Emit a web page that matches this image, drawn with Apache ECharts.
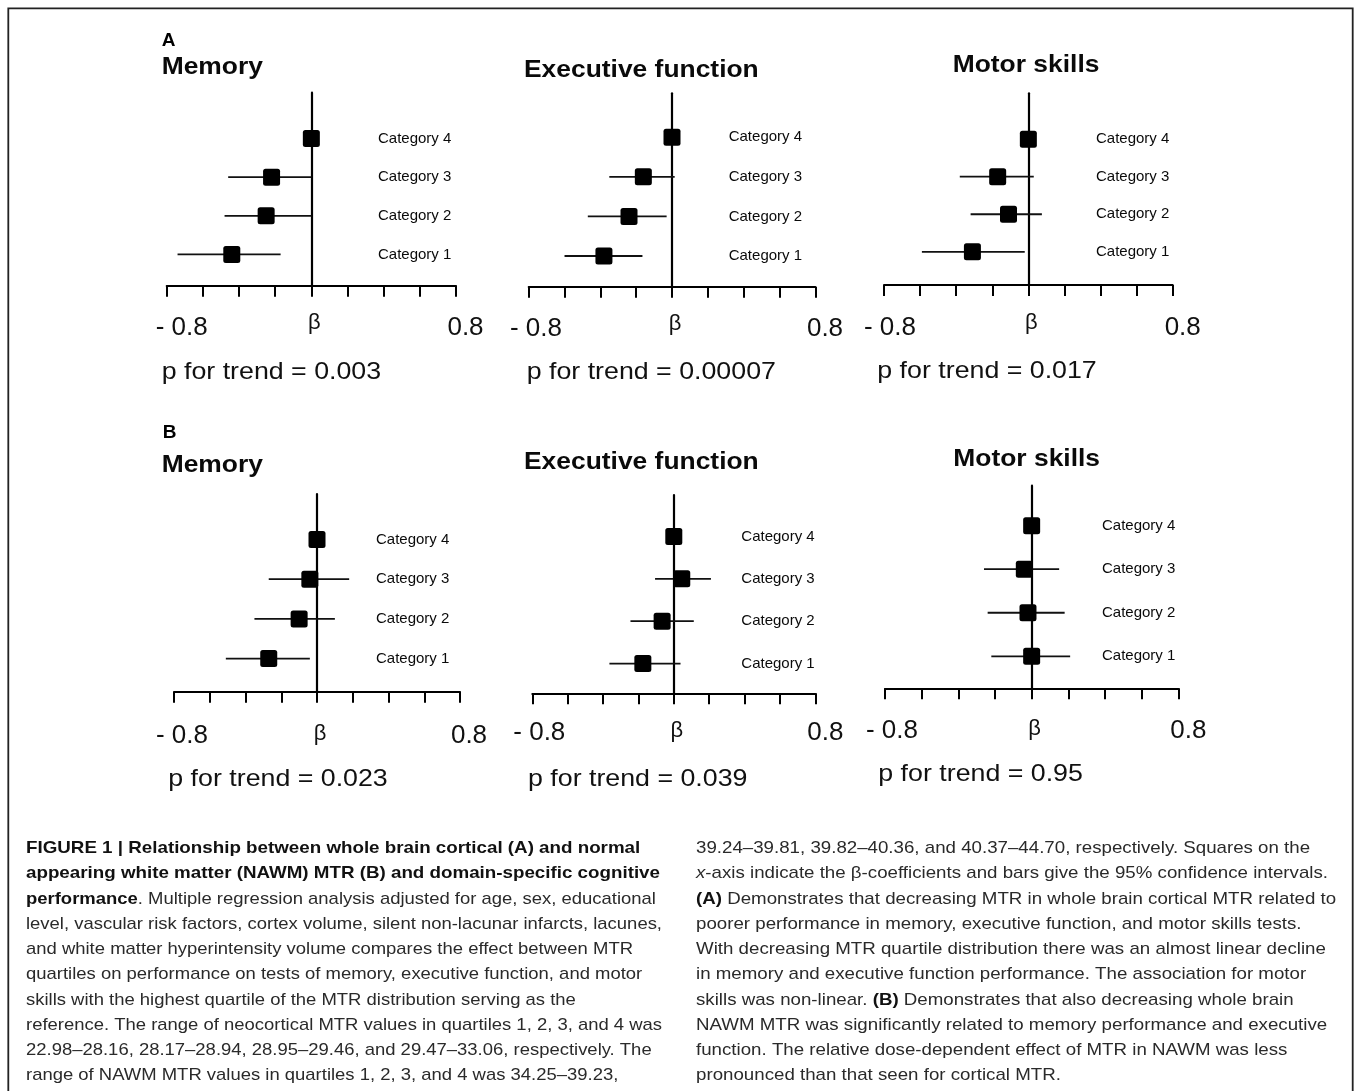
<!DOCTYPE html>
<html>
<head>
<meta charset="utf-8">
<script src="https://cdn.jsdelivr.net/npm/echarts@6/dist/echarts.min.js"></script>
<style>
html,body{margin:0;padding:0;background:#fff;}
#c{width:1354px;height:1091px;}
</style>
</head>
<body>
<div id="c"></div>
<script>
// ---------------- DATA ----------------
const categories = ['Category 1', 'Category 2', 'Category 3', 'Category 4'];
const rowPos = [1, 2, 3, 4];
const domains = ['Memory', 'Executive function', 'Motor skills'];
const sectionLetters = ['A', 'B'];

// (A) whole brain cortical MTR quartiles: beta and 95% CI
const memA_beta = [-0.44, -0.25, -0.22, 0];
const memA_low  = [-0.74, -0.48, -0.46, 0];
const memA_high = [-0.17, 0.00, 0.00, 0];

const exeA_beta = [-0.38, -0.24, -0.16, 0];
const exeA_low  = [-0.60, -0.47, -0.35, 0];
const exeA_high = [-0.165, -0.03, 0.015, 0];

const motA_beta = [-0.31, -0.11, -0.17, 0];
const motA_low  = [-0.59, -0.32, -0.38, 0];
const motA_high = [-0.02, 0.075, 0.03, 0];

// (B) NAWM MTR quartiles
const memB_beta = [-0.27, -0.10, -0.04, 0];
const memB_low  = [-0.51, -0.35, -0.27, 0];
const memB_high = [-0.04, 0.10, 0.18, 0];

const exeB_beta = [-0.175, -0.066, 0.045, 0];
const exeB_low  = [-0.364, -0.245, -0.106, 0];
const exeB_high = [0.038, 0.113, 0.21, 0];

const motB_beta = [0.00, -0.02, -0.04, 0];
const motB_low  = [-0.22, -0.24, -0.26, 0];
const motB_high = [0.21, 0.18, 0.15, 0];

const pTrendA = ['0.003', '0.00007', '0.017'];
const pTrendB = ['0.023', '0.039', '0.95'];

const xMin = -0.8, xMax = 0.8, xStep = 0.2;
const xLabelNeg = '- 0.8', xLabelZero = 'β', xLabelPos = '0.8';

const captionLeft = [
  'FIGURE 1 | Relationship between whole brain cortical (A) and normal',
  'appearing white matter (NAWM) MTR (B) and domain-specific cognitive',
  '{b|performance}. Multiple regression analysis adjusted for age, sex, educational',
  'level, vascular risk factors, cortex volume, silent non-lacunar infarcts, lacunes,',
  'and white matter hyperintensity volume compares the effect between MTR',
  'quartiles on performance on tests of memory, executive function, and motor',
  'skills with the highest quartile of the MTR distribution serving as the',
  'reference. The range of neocortical MTR values in quartiles 1, 2, 3, and 4 was',
  '22.98–28.16, 28.17–28.94, 28.95–29.46, and 29.47–33.06, respectively. The',
  'range of NAWM MTR values in quartiles 1, 2, 3, and 4 was 34.25–39.23,'
];
const captionLeftBold = [true, true, false, false, false, false, false, false, false, false];
const captionRight = [
  '39.24–39.81, 39.82–40.36, and 40.37–44.70, respectively. Squares on the',
  '{i|x}-axis indicate the β-coefficients and bars give the 95% confidence intervals.',
  '{b|(A)} Demonstrates that decreasing MTR in whole brain cortical MTR related to',
  'poorer performance in memory, executive function, and motor skills tests.',
  'With decreasing MTR quartile distribution there was an almost linear decline',
  'in memory and executive function performance. The association for motor',
  'skills was non-linear. {b|(B)} Demonstrates that also decreasing whole brain',
  'NAWM MTR was significantly related to memory performance and executive',
  'function. The relative dose-dependent effect of MTR in NAWM was less',
  'pronounced than that seen for cortical MTR.'
];

// ---------------- LAYOUT ----------------
const FONT = '"Liberation Sans", Arial, Helvetica, sans-serif';
const panels = [
  {beta: memA_beta, lo: memA_low, hi: memA_high, title: domains[0], p: pTrendA[0],
   g: [166.7, 92.7, 289.3, 193], yr: [0.189, 5.189], catOff: -78,
   xl: {m: 26, dp: 3, bp: 0, sn: 15, sp: 9.5}, tx: 161.7, ty: 67, px: 161.7, py: 372},
  {beta: exeA_beta, lo: exeA_low, hi: exeA_high, title: domains[1], p: pTrendA[1],
   g: [528.7, 93.3, 286.6, 193.4], yr: [0.225, 5.109], catOff: -86.6,
   xl: {m: 26, dp: 3, bp: 0, sn: 7.3, sp: 9.7}, tx: 524, ty: 70.6, px: 526.7, py: 372},
  {beta: motA_beta, lo: motA_low, hi: motA_high, title: domains[2], p: pTrendA[2],
   g: [884, 93.3, 288.7, 191.7], yr: [0.116, 5.222], catOff: -76.7,
   xl: {m: 27, dp: 3, bp: 0, sn: 6, sp: 10}, tx: 952.7, ty: 65.6, px: 877.3, py: 371},
  {beta: memB_beta, lo: memB_low, hi: memB_high, title: domains[0], p: pTrendB[0],
   g: [174, 494, 286, 197.7], yr: [0.166, 5.146], catOff: -84,
   xl: {m: 31, dp: 0, bp: 0, sn: 8, sp: 9}, tx: 161.7, ty: 465.6, px: 168.3, py: 779},
  {beta: exeB_beta, lo: exeB_low, hi: exeB_high, title: domains[1], p: pTrendB[1],
   g: [532.3, 495, 283, 198.3], yr: [0.30, 4.976], catOff: -74,
   xl: {m: 27, dp: 0, bp: 0, sn: 7, sp: 10}, tx: 524, ty: 462.2, px: 528, py: 779},
  {beta: motB_beta, lo: motB_low, hi: motB_high, title: domains[2], p: pTrendB[2],
   g: [885, 485.7, 293.3, 202.6], yr: [0.265, 4.918], catOff: -76.3,
   xl: {m: 30, dp: 0, bp: 0, sn: 7, sp: 10}, tx: 953.3, ty: 459, px: 878.3, py: 774}
];

const SQ = 17;
function renderItem(params, api) {
  const y = api.value(0), b = api.value(1), lo = api.value(2), hi = api.value(3);
  const pc = api.coord([b, y]);
  const pl = api.coord([lo, y]);
  const ph = api.coord([hi, y]);
  return {
    type: 'group',
    children: [
      {type: 'line', shape: {x1: pl[0], y1: pl[1], x2: ph[0], y2: ph[1]},
       style: {stroke: '#111', lineWidth: 1.8}},
      {type: 'rect', shape: {x: pc[0] - SQ / 2, y: pc[1] - SQ / 2, width: SQ, height: SQ, r: 2.5},
       style: {fill: '#000'}}
    ]
  };
}

const near = (a, b) => Math.abs(a - b) < 1e-6;
const grids = [], xAxes = [], yAxes = [], series = [], graphics = [];

panels.forEach((P, i) => {
  grids.push({left: P.g[0], top: P.g[1], width: P.g[2], height: P.g[3],
              containLabel: false, outerBoundsMode: 'none'});
  xAxes.push({
    type: 'value', gridIndex: i, min: xMin, max: xMax, interval: xStep,
    axisLine: {show: true, onZero: false, lineStyle: {color: '#000', width: 2}},
    axisTick: {show: true, inside: false, length: 11, lineStyle: {color: '#000', width: 2}},
    splitLine: {show: false},
    axisLabel: {
      show: true, margin: P.xl.m, hideOverlap: false, showMinLabel: true, showMaxLabel: true,
      formatter: v => near(v, xMin) ? '{n|' + xLabelNeg + '}' :
                      near(v, 0) ? '{b|' + xLabelZero + '}' :
                      near(v, xMax) ? '{p|' + xLabelPos + '}' : '',
      rich: {
        n: {fontSize: 26, fontFamily: FONT, color: '#111', padding: [P.xl.dp, 0, 0, 2 * P.xl.sn]},
        p: {fontSize: 26, fontFamily: FONT, color: '#111', padding: [P.xl.dp, 0, 0, 2 * P.xl.sp]},
        b: {fontSize: 22, fontFamily: FONT, color: '#111', padding: [P.xl.bp, 0, 0, 6]}
      }
    }
  });
  yAxes.push({
    type: 'value', gridIndex: i, min: P.yr[0], max: P.yr[1], position: 'left',
    axisLine: {show: true, onZero: true, lineStyle: {color: '#000', width: 2.2}},
    axisTick: {show: false}, axisLabel: {show: false}, splitLine: {show: false}
  });
  yAxes.push({
    type: 'value', gridIndex: i, min: P.yr[0], max: P.yr[1], position: 'right', offset: P.catOff,
    axisLine: {show: false, onZero: false}, axisTick: {show: false}, splitLine: {show: false},
    axisLabel: {
      show: true, margin: 0, customValues: rowPos, hideOverlap: false,
      formatter: v => { const k = rowPos.findIndex(r => near(r, v)); return k >= 0 ? categories[k] : ''; },
      fontSize: 15, fontFamily: FONT, color: '#0a0a0a'
    }
  });
  series.push({
    type: 'custom', xAxisIndex: i, yAxisIndex: 2 * i, renderItem: renderItem,
    data: rowPos.map((r, k) => [r, P.beta[k], P.lo[k], P.hi[k]]),
    encode: {x: [1, 2, 3], y: 0}, clip: false, silent: true, animation: false
  });
});

function txt(x, y, text, o) {
  const style = {
    text: text, fontFamily: FONT, fontSize: o.size, fontWeight: o.weight || 'normal',
    fill: o.color || '#000', align: 'left', verticalAlign: 'middle',
    textAlign: 'left', textVerticalAlign: 'middle'
  };
  if (o.rich) style.rich = o.rich;
  return {type: 'text', x: x, y: y, scaleX: o.sx || 1, silent: true, z: 10, style: style};
}

// frame
graphics.push({type: 'rect', silent: true, z: 1,
  shape: {x: 8.3, y: 8.3, width: 1344.4, height: 1120},
  style: {fill: 'none', stroke: '#222', lineWidth: 1.8}});

// section letters
graphics.push(txt(161.7, 40.5, sectionLetters[0], {size: 19, weight: 'bold'}));
graphics.push(txt(162.7, 432.5, sectionLetters[1], {size: 19, weight: 'bold'}));

// titles & p for trend
panels.forEach(P => {
  graphics.push(txt(P.tx, P.ty, P.title, {size: 24, weight: 'bold', sx: 1.1, color: '#0a0a0a'}));
  graphics.push(txt(P.px, P.py, 'p for trend = ' + P.p, {size: 24, sx: 1.115, color: '#111'}));
});

// caption
const mctx = document.createElement('canvas').getContext('2d');
function textW(t, weight, size) {
  mctx.font = weight + ' ' + size + 'px "Liberation Sans", Arial, sans-serif';
  return mctx.measureText(t.replace(/\{[a-z]+\|([^}]*)\}/g, '$1')).width;
}
const CAP = 17, CAP_Y0 = 848.5, CAP_DY = 25.25;
const sL = 636 / textW(captionLeft[3], 'normal', CAP);
const sLB = 634 / textW(captionLeft[1], 'bold', CAP);
const sR = 632 / textW(captionRight[1], 'normal', CAP);
const capRich = {
  b: {fontWeight: 'bold', fontSize: CAP, fontFamily: FONT, fill: '#111', color: '#111'},
  i: {fontStyle: 'italic', fontSize: CAP, fontFamily: FONT, fill: '#2a2a2a', color: '#2a2a2a'}
};
captionLeft.forEach((line, k) => {
  const bold = captionLeftBold[k];
  graphics.push(txt(26, CAP_Y0 + k * CAP_DY, line, {
    size: CAP, weight: bold ? 'bold' : 'normal', sx: bold ? sLB : sL,
    color: bold ? '#111' : '#2a2a2a', rich: capRich}));
});
captionRight.forEach((line, k) => {
  graphics.push(txt(696, CAP_Y0 + k * CAP_DY, line, {
    size: CAP, sx: sR, color: '#2a2a2a', rich: capRich}));
});

const chart = echarts.init(document.getElementById('c'), null, {renderer: 'canvas'});
chart.setOption({
  animation: false,
  backgroundColor: '#fff',
  grid: grids,
  xAxis: xAxes,
  yAxis: yAxes,
  series: series,
  graphic: {elements: graphics}
});
</script>
</body>
</html>
